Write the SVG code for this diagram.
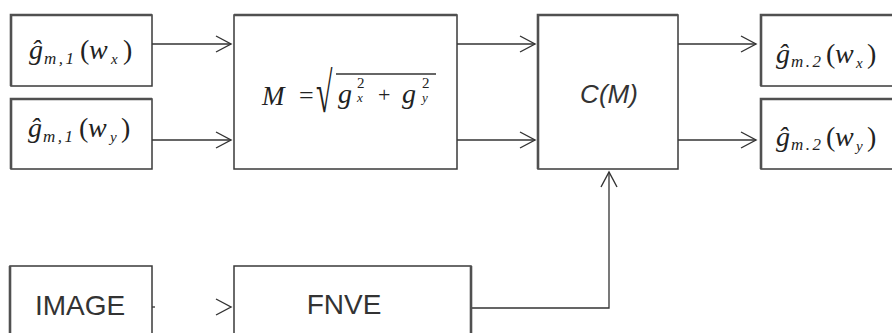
<svg xmlns="http://www.w3.org/2000/svg" width="892" height="333" viewBox="0 0 892 333">
<defs>
<style>
.box{fill:#fff;stroke:#3a3a3a;stroke-width:1.5}
.edge{fill:none;stroke:#505050;stroke-width:2.6}
.wire{fill:none;stroke:#333;stroke-width:1.3}
.m{font-family:"Liberation Serif",serif;font-style:italic;fill:#222}
.up{font-style:normal}
.sb{font-size:17px;letter-spacing:2.5px}
.vs{font-size:15px}
.s{font-family:"Liberation Sans",Arial,sans-serif;fill:#333}
</style>
<marker id="ah" viewBox="-16 -10 18 20" refX="0" refY="0" markerWidth="18" markerHeight="20" markerUnits="userSpaceOnUse" orient="auto">
<path d="M-15,-8 L0,0 L-15,8" fill="none" stroke="#333" stroke-width="1.4"/>
</marker>
</defs>
<rect width="892" height="333" fill="#fff"/>
<g id="connectors">
<path class="wire" d="M152,44 H231" marker-end="url(#ah)"/>
<path class="wire" d="M152,140 H231" marker-end="url(#ah)"/>
<path class="wire" d="M457,44 H535" marker-end="url(#ah)"/>
<path class="wire" d="M457,140 H535" marker-end="url(#ah)"/>
<path class="wire" d="M678,44 H756" marker-end="url(#ah)"/>
<path class="wire" d="M678,140 H756" marker-end="url(#ah)"/>
<path class="wire" d="M152,307 H231" stroke-dasharray="3 200" marker-end="url(#ah)"/>
<path class="wire" d="M471,308 H609 V172" marker-end="url(#ah)"/>
</g>
<g id="in1">
<rect class="box" x="11" y="15" width="141" height="71"/>
<path class="edge" d="M11,86 V15 H152"/>
<text class="m" y="59" font-size="28"><tspan x="29">ĝ</tspan><tspan class="sb" x="44" dy="5">m,1</tspan><tspan class="up" x="80" dy="-5">(</tspan><tspan x="89">w</tspan><tspan class="vs" x="111" dy="5">x</tspan><tspan class="up" x="123" dy="-5">)</tspan></text>
</g>
<g id="in2">
<rect class="box" x="11" y="99" width="141" height="70"/>
<path class="edge" d="M11,169 V99 H152"/>
<text class="m" y="137" font-size="28"><tspan x="28">ĝ</tspan><tspan class="sb" x="43" dy="5">m,1</tspan><tspan class="up" x="79" dy="-5">(</tspan><tspan x="88">w</tspan><tspan class="vs" x="110" dy="5">y</tspan><tspan class="up" x="121" dy="-5">)</tspan></text>
</g>
<g id="magnitude">
<rect class="box" x="234" y="15" width="223" height="154"/>
<path class="edge" d="M234,15 H457"/>
<text class="m" x="262" y="105" font-size="27">M</text>
<text class="m up" x="299" y="104" font-size="26">=</text>
<text class="m up" font-size="30" transform="translate(316,112) scale(1,1.9)">√</text>
<line x1="336" y1="74" x2="436" y2="74" stroke="#333" stroke-width="1.3"/>
<text class="m" x="338" y="103" font-size="28">g</text>
<text class="m up" x="357" y="88" font-size="15">2</text>
<text class="m" x="357" y="102" font-size="13">x</text>
<text class="m up" x="378" y="102" font-size="22">+</text>
<text class="m" x="402" y="103" font-size="28">g</text>
<text class="m up" x="422" y="88" font-size="15">2</text>
<text class="m" x="422" y="102" font-size="13">y</text>
</g>
<g id="contrast">
<rect class="box" x="538" y="15" width="140" height="154"/>
<path class="edge" d="M538,169 V15 H678"/>
<text class="s" x="609" y="103" font-size="26" font-style="italic" text-anchor="middle">C(M)</text>
</g>
<g id="out1">
<rect class="box" x="761" y="15" width="140" height="71"/>
<path class="edge" d="M761,86 V15 H892"/>
<text class="m" y="63" font-size="28"><tspan x="776">ĝ</tspan><tspan class="sb" x="791" dy="4">m.2</tspan><tspan class="up" x="826" dy="-4">(</tspan><tspan x="835">w</tspan><tspan class="vs" x="856" dy="5">x</tspan><tspan class="up" x="867" dy="-5">)</tspan></text>
</g>
<g id="out2">
<rect class="box" x="761" y="99" width="140" height="70"/>
<path class="edge" d="M761,169 V99 H892"/>
<text class="m" y="146" font-size="28"><tspan x="776">ĝ</tspan><tspan class="sb" x="791" dy="4">m.2</tspan><tspan class="up" x="826" dy="-4">(</tspan><tspan x="835">w</tspan><tspan class="vs" x="856" dy="5">y</tspan><tspan class="up" x="867" dy="-5">)</tspan></text>
</g>
<g id="image">
<rect class="box" x="10" y="266" width="142" height="80"/>
<path class="edge" d="M10,333 V266"/>
<text class="s" x="80" y="315" font-size="28" text-anchor="middle">IMAGE</text>
</g>
<g id="fnve">
<rect class="box" x="234" y="266" width="237" height="80"/>
<path class="edge" d="M471,266 V333"/>
<text class="s" x="344" y="314" font-size="28" text-anchor="middle">FNVE</text>
</g>
</svg>
